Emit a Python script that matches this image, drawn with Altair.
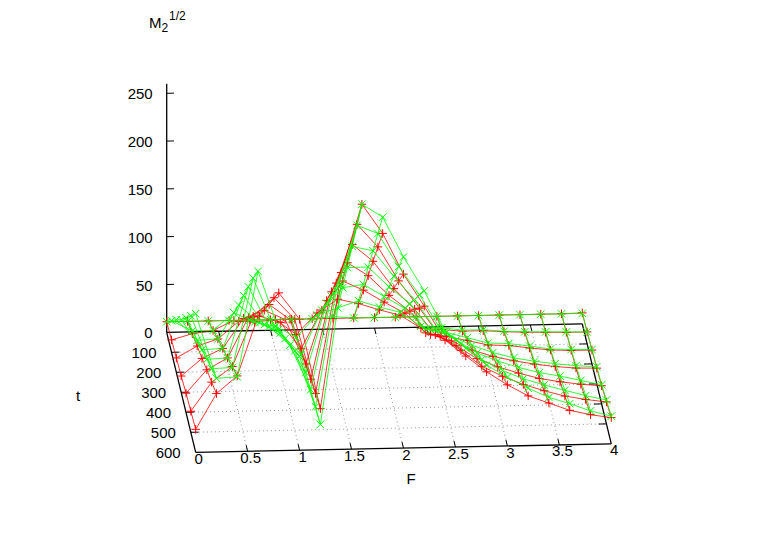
import altair as alt
import pandas as pd

F_VALUES = [round(0.2 * i, 1) for i in range(21)]
T_VALUES = [0, 100, 200, 300, 400, 500, 600]

# M2^(1/2): one list per F, running over T_VALUES
RED = [
    [11, 13, 15, 17, 20, 22, 24],
    [11, 19, 27, 35, 44, 52, 61],
    [11, 22, 34, 45, 56, 68, 79],
    [11, 32, 52, 76, 98, 120, 141],
    [11, 30, 57, 84, 111, 139, 165],
    [11, 32, 50, 74, 95, 116, 137],
    [11, 16, 22, 27, 32, 38, 43],
    [11, 38, 62, 93, 123, 153, 185],
    [11, 52, 92, 132, 172, 214, 256],
    [11, 47, 82, 118, 154, 190, 225],
    [11, 40, 69, 97, 125, 154, 182],
    [11, 34, 57, 80, 103, 125, 148],
    [11, 20, 36, 55, 76, 95, 112],
    [11, 18, 32, 48, 64, 80, 95],
    [11, 16, 27, 38, 50, 63, 78],
    [11, 16, 22, 31, 41, 52, 64],
    [11, 14.5, 21, 26, 34, 43, 52],
    [11, 13.5, 18, 22, 28, 36, 44],
    [11, 13, 15.5, 19, 24, 30, 36],
    [11, 12.5, 14.5, 17, 21, 26, 31],
    [11.5, 12.5, 14.5, 16.5, 19, 23, 27.5],
]
GREEN = [
    [11, 33, 55, 76, 99, 122, 145],
    [11, 22, 33, 44, 55, 66, 77],
    [11, 22, 34, 45, 56, 67, 78],
    [11, 40, 69, 100, 130, 160, 188],
    [11, 30, 50, 69, 88, 108, 127],
    [11, 25, 39, 54, 68, 83, 98],
    [11, 13, 16, 18, 21, 24, 26.5],
    [11, 36, 62, 90, 118, 145, 172],
    [13, 43, 85, 127, 170, 213, 256],
    [11, 50, 88, 127, 165, 204, 242],
    [11, 43, 75, 106, 138, 169, 200],
    [11, 37, 62, 88, 113, 139, 164],
    [11, 22, 40, 60, 82, 103, 122],
    [11, 20, 36, 53, 70, 87, 103],
    [11, 17, 30, 43, 56, 70, 85],
    [11, 17, 24, 35, 47, 58, 72],
    [11, 15, 23, 29, 40, 49, 60],
    [11, 14, 20, 25, 34, 42, 50],
    [11, 13.5, 16.5, 22, 30, 36, 43],
    [11, 13, 15.5, 19.5, 25, 30, 35],
    [11, 12.5, 15, 18, 20, 25, 29],
]

Z_TICKS = [0, 50, 100, 150, 200, 250]
T_TICKS = [0, 100, 200, 300, 400, 500, 600]
F_TICKS = [0, 0.5, 1, 1.5, 2, 2.5, 3, 3.5, 4]
Z_TOP = 260
F_LABELS = ["0", "0.5", "1", "1.5", "2", "2.5", "3", "3.5", "4"]


def project(f, t, z=0.0):
    """gnuplot-style parallel projection of (F, t, M) to page pixels."""
    return (166.7 + 103.9 * f + 0.0483 * t,
            332.3 - 2.1 * f + 0.2 * t - 0.956 * z)


def segs(pieces):
    rows = []
    for i, (a, b) in enumerate(pieces):
        for o, p in enumerate((a, b)):
            x, y = project(*p)
            rows.append({"px": x, "py": y, "id": i, "o": o})
    return pd.DataFrame(rows)


W, H = 762, 529
X = alt.X("px:Q", axis=None, scale=alt.Scale(domain=[8, 8 + W], range=[0, W], nice=False, zero=False))
Y = alt.Y("py:Q", axis=None, scale=alt.Scale(domain=[8, 8 + H], range=[0, H], nice=False, zero=False))


def line_layer(df, **mark):
    return alt.Chart(df).mark_line(**mark).encode(
        x=X, y=Y, detail="id:N", order="o:Q")


# dotted grid on the base plane
grid = [((0, t), (4, t)) for t in T_TICKS[1:-1]] + [((f, 0), (f, 600)) for f in F_TICKS[1:-1]]
grid_layer = line_layer(segs(grid), color="#8a8a8a", strokeWidth=1, strokeDash=[1, 3], strokeOpacity=0.9)

# border of the base and the vertical axis
border = [((0, 0), (4, 0)), ((4, 0), (4, 600)), ((4, 600), (0, 600)), ((0, 600), (0, 0)),
          ((0, 0, 0), (0, 0, Z_TOP))]
border_layer = line_layer(segs(border), color="#000000", strokeWidth=1.3)

ticks = []
for t in T_TICKS[1:-1]:
    ticks.append(((0, t), (0.075, t)))
    ticks.append(((4, t), (3.925, t)))
for f in F_TICKS[1:-1]:
    ticks.append(((f, 600), (f, 570)))
    ticks.append(((f, 0), (f, 30)))
for z in Z_TICKS[1:]:
    ticks.append(((0, 0, z), (0.07, 0, z + 0.0)))
tick_layer = line_layer(segs(ticks), color="#000000", strokeWidth=1)


def surface(table, color, shape, size):
    rows, pts = [], []
    lid = 0
    for i, f in enumerate(F_VALUES):
        for j, t in enumerate(T_VALUES):
            x, y = project(f, t, table[i][j])
            rows.append({"px": x, "py": y, "id": lid, "o": j})
            pts.append({"px": x, "py": y})
        lid += 1
    for j, t in enumerate(T_VALUES):
        for i, f in enumerate(F_VALUES):
            x, y = project(f, t, table[i][j])
            rows.append({"px": x, "py": y, "id": lid, "o": i})
        lid += 1
    lines = line_layer(pd.DataFrame(rows), color=color, strokeWidth=0.8)
    marks = alt.Chart(pd.DataFrame(pts)).mark_point(
        shape=shape, size=size, filled=False, color=color, strokeWidth=1, opacity=1
    ).encode(x=X, y=Y)
    return lines + marks


PLUS = "M-1,0L1,0M0,-1L0,1"
CROSS = "M-1,-1L1,1M-1,1L1,-1"
red = surface(RED, "#ff0000", PLUS, 72)
green = surface(GREEN, "#00ff00", CROSS, 56)

FONT = dict(font="Liberation Sans", fontSize=15, color="#000000")


def labels(texts, pts, align, dx, dy):
    rows = [{"px": project(*p)[0], "py": project(*p)[1], "s": s} for s, p in zip(texts, pts)]
    return alt.Chart(pd.DataFrame(rows)).mark_text(align=align, baseline="middle", dx=dx, dy=dy, **FONT).encode(
        x=X, y=Y, text="s:N")


z_labels = labels([str(z) for z in Z_TICKS], [(0, 0, z) for z in Z_TICKS], "right", -14, 1)
t_labels = labels([str(t) for t in T_TICKS[1:]], [(0, t) for t in T_TICKS[1:]], "right", -15, 0.5)
f_labels = labels(F_LABELS, [(f, 600) for f in F_TICKS], "center", 3, 6.5)


def title(s, px, py, size=15, align="left"):
    return alt.Chart(pd.DataFrame({"s": [s]})).mark_text(
        align=align, baseline="middle", font="Liberation Sans", fontSize=size, color="#000000"
    ).encode(x=alt.value(px - 8), y=alt.value(py - 8), text="s:N")


titles = (title("F", 411, 479, align="center") + title("t", 78, 396, align="center")
          + title("M", 149, 23) + title("2", 161.5, 28, 12) + title("1/2", 169, 16, 12))

chart = alt.layer(
    grid_layer, border_layer, tick_layer, red, green,
    z_labels, t_labels, f_labels, titles
).properties(width=W, height=H, padding=0, autosize=alt.AutoSizeParams(type="none")
).configure_view(stroke=None)

chart.save("out.html", embed_options={"renderer": "svg", "actions": False})
